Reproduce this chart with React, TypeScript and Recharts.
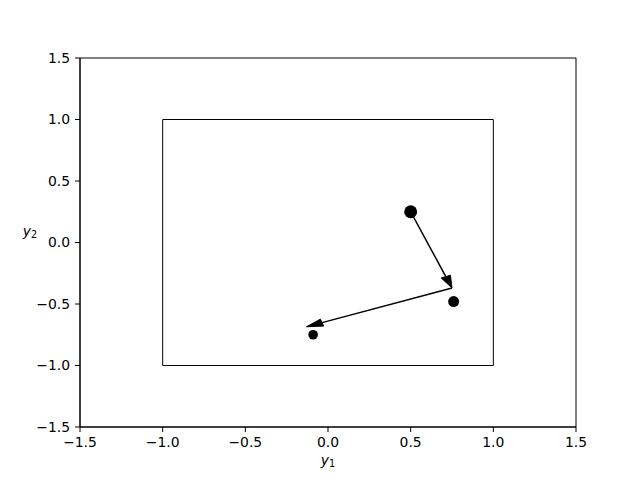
import React from 'react';
import { ScatterChart, Scatter, XAxis, YAxis, ReferenceArea, ReferenceLine, Label } from 'recharts';

const xTicks = [-1.5, -1.0, -0.5, 0.0, 0.5, 1.0, 1.5];
const yTicks = [-1.5, -1.0, -0.5, 0.0, 0.5, 1.0, 1.5];
const bigPoint = [{ x: 0.5, y: 0.25 }];
const midPoint = [{ x: 0.76, y: -0.48 }];
const smallPoint = [{ x: -0.09, y: -0.75 }];
const arrowStarts = [{ x: 0.5, y: 0.25 }, { x: 0.75, y: -0.37 }];
const arrowEnds = [{ x: 0.75, y: -0.37 }, { x: -0.13, y: -0.685 }];
const boxX = [-1, 1];
const boxY = [-1, 1];

const FONT = 'DejaVu Sans';
const fmt = (v: number) => v.toFixed(1).replace('-', '\u2212');

const makeArrow = (s: { x: number; y: number }, e: { x: number; y: number }) => (props: any) => {
  const { x1, y1, x2, y2 } = props;
  const dx = e.x - s.x;
  const dy = e.y - s.y;
  const sx = (x2 - x1) / dx;
  const sy = (y2 - y1) / dy;
  const len = Math.hypot(dx, dy);
  const ux = dx / len;
  const uy = dy / len;
  const L = 0.1;
  const W = 0.03;
  const bx = e.x - L * ux;
  const by = e.y - L * uy;
  const toPx = (x: number, y: number) => [x2 + (x - e.x) * sx, y2 + (y - e.y) * sy];
  const p1 = toPx(bx - W * uy, by + W * ux);
  const p2 = toPx(bx + W * uy, by - W * ux);
  const base = toPx(bx, by);
  return (
    <g>
      <line x1={x1} y1={y1} x2={base[0]} y2={base[1]} stroke="black" strokeWidth={1.5} />
      <polygon points={`${x2},${y2} ${p1[0]},${p1[1]} ${p2[0]},${p2[1]}`} fill="black" stroke="black" strokeWidth={1} strokeLinejoin="miter" />
    </g>
  );
};

const dot = (r: number) => (p: any) => <circle cx={p.cx} cy={p.cy} r={r} fill="black" />;

const tickStyle = { fill: 'black', fontSize: 13.9, fontFamily: FONT };

export default function App() {
  return (
    <div style={{ position: 'absolute', left: 0, top: 0, width: 640, height: 480, background: 'white' }}>
      <ScatterChart width={640} height={480} margin={{ top: 58, right: 64, bottom: 0, left: 0 }}>
        <XAxis
          type="number"
          dataKey="x"
          domain={[-1.5, 1.5]}
          ticks={xTicks}
          interval={0}
          allowDataOverflow
          tickFormatter={fmt}
          tick={tickStyle}
          tickSize={5}
          tickMargin={5}
          height={53}
          stroke="black"
          axisLine={{ stroke: 'black' }}
          tickLine={{ stroke: 'black' }}
        >
          <Label
            content={(p: any) => {
              const vb = p.viewBox;
              return (
                <text x={vb.x + vb.width / 2} y={vb.y + 38} textAnchor="middle" fontFamily={FONT} fontSize={13.9} fill="black">
                  <tspan fontStyle="italic">y</tspan>
                  <tspan fontSize={9.7} dy={2}>1</tspan>
                </text>
              );
            }}
          />
        </XAxis>
        <YAxis
          type="number"
          dataKey="y"
          domain={[-1.5, 1.5]}
          ticks={yTicks}
          interval={0}
          allowDataOverflow
          tickFormatter={fmt}
          tick={tickStyle}
          tickSize={5}
          tickMargin={5}
          width={80}
          stroke="black"
          axisLine={{ stroke: 'black' }}
          tickLine={{ stroke: 'black' }}
        >
          <Label
            content={(p: any) => {
              const vb = p.viewBox;
              return (
                <text x={vb.x + 30} y={vb.y + vb.height / 2 - 7} textAnchor="middle" fontFamily={FONT} fontSize={13.9} fill="black">
                  <tspan fontStyle="italic">y</tspan>
                  <tspan fontSize={9.7} dy={2}>2</tspan>
                </text>
              );
            }}
          />
        </YAxis>
        <ReferenceArea x1={-1.5} x2={1.5} y1={-1.5} y2={1.5} fill="none" fillOpacity={0} stroke="black" strokeWidth={1} />
        <ReferenceArea x1={boxX[0]} x2={boxX[1]} y1={boxY[0]} y2={boxY[1]} fill="none" fillOpacity={0} stroke="black" strokeWidth={1} />
        {arrowStarts.map((s, i) => (
          <ReferenceLine
            key={i}
            segment={[s, arrowEnds[i]]}
            stroke="black"
            shape={makeArrow(s, arrowEnds[i])}
          />
        ))}
        <Scatter data={bigPoint} isAnimationActive={false} shape={dot(6.5)} />
        <Scatter data={midPoint} isAnimationActive={false} shape={dot(5.5)} />
        <Scatter data={smallPoint} isAnimationActive={false} shape={dot(4.8)} />
      </ScatterChart>
    </div>
  );
}
